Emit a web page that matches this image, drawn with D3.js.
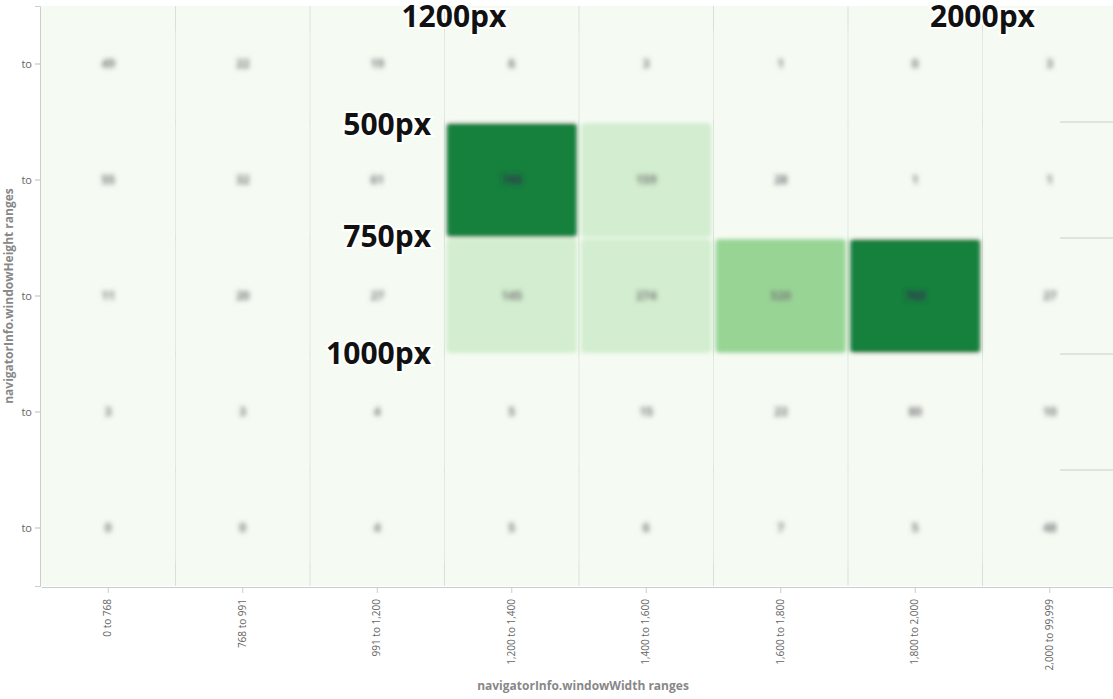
<!DOCTYPE html>
<html><head><meta charset="utf-8">
<script src="https://cdn.jsdelivr.net/npm/d3@7"></script>
<style>body{margin:0;background:#fff}svg{display:block}</style>
</head><body>
<div id="chart"></div>
<script>
var widthRanges = ["0 to 768", "768 to 991", "991 to 1,200", "1,200 to 1,400", "1,400 to 1,600", "1,600 to 1,800", "1,800 to 2,000", "2,000 to 99,999"];
var heightRanges = ["h0", "h1", "h2", "h3", "h4"]; // all labelled "to" in the picture
var heightLabels = ["to", "to", "to", "to", "to"];
var counts = [
  [49, 22, 19, 6, 3, 1, 0, 3],
  [55, 32, 61, 740, 159, 28, 1, 1],
  [11, 20, 27, 145, 274, 520, 760, 27],
  [3, 3, 4, 5, 15, 23, 80, 10],
  [0, 0, 4, 5, 6, 7, 5, 48]
];
// annotation positions in column / row units from the top-left of the grid
var notes = [
  {text: "1200px", x: 3.07, y: 0.18, anchor: "middle"},
  {text: "2000px", x: 7.0, y: 0.18, anchor: "middle"},
  {text: "500px", x: 2.9, y: 1.11, anchor: "end"},
  {text: "750px", x: 2.9, y: 2.08, anchor: "end"},
  {text: "1000px", x: 2.9, y: 3.09, anchor: "end"}
];

var width = 1113, height = 699;
var svg = d3.select("#chart").append("svg").attr("width", width).attr("height", height);

var x = d3.scaleBand().domain(widthRanges).range([41, 1117]);
var y = d3.scaleBand().domain(heightRanges).range([6, 586]);
var color = d3.scaleThreshold()
  .domain([100, 400, 650])
  .range(["#f5fbf3", "#d2edcf", "#98d595", "#16803c"]);

var defs = svg.append("defs");
defs.append("filter").attr("id", "blur").append("feGaussianBlur").attr("stdDeviation", 2.2);
defs.append("filter").attr("id", "blurTxt").append("feGaussianBlur").attr("stdDeviation", 2.4);
defs.append("clipPath").attr("id", "clip").append("rect")
  .attr("x", 0).attr("y", 0).attr("width", 1060).attr("height", 586);

// background and grid
svg.append("rect").attr("x", 41).attr("y", 6).attr("width", width - 41).attr("height", 580).attr("fill", "#f5fbf3");
svg.append("g").selectAll("line").data(widthRanges.slice(1))
  .enter().append("line")
  .attr("x1", d => x(d)).attr("x2", d => x(d)).attr("y1", 6).attr("y2", 586)
  .attr("stroke", "#ddd");
svg.append("g").selectAll("line").data(heightRanges.slice(1))
  .enter().append("line")
  .attr("x1", 1060).attr("x2", width).attr("y1", d => y(d)).attr("y2", d => y(d))
  .attr("stroke", "#ccc");

var cells = [];
counts.forEach(function(row, i) {
  row.forEach(function(v, j) { cells.push({r: heightRanges[i], c: widthRanges[j], v: v}); });
});

var g = svg.append("g").attr("clip-path", "url(#clip)");
g.append("g").attr("filter", "url(#blur)").selectAll("rect").data(cells)
  .enter().append("rect")
  .attr("x", d => x(d.c) + 2)
  .attr("y", function(d) { return d.r === "h0" ? y(d.r) + 24 : y(d.r) + 1; })
  .attr("width", x.bandwidth() - 4)
  .attr("height", function(d) {
    if (d.r === "h0") return y.bandwidth() - 25;
    if (d.r === "h4") return y.bandwidth() - 24;
    return y.bandwidth() - 2;
  })
  .attr("rx", 4)
  .attr("fill", d => color(d.v));
g.append("g").attr("filter", "url(#blurTxt)").selectAll("text").data(cells)
  .enter().append("text")
  .attr("x", d => x(d.c) + x.bandwidth() / 2)
  .attr("y", d => y(d.r) + y.bandwidth() / 2 + 4)
  .attr("text-anchor", "middle")
  .attr("font-family", "Open Sans, sans-serif").attr("font-size", 12).attr("font-weight", "bold")
  .attr("fill", d => d.v > 650 ? "#335" : "#777")
  .text(d => d.v);

// axes
var xAxis = svg.append("g").attr("transform", "translate(0,587)")
  .call(d3.axisBottom(x).tickSize(6).tickSizeOuter(0));
xAxis.select(".domain").attr("stroke", "#ccc");
xAxis.selectAll("line").attr("stroke", "#ccc");
xAxis.selectAll("text")
  .attr("transform", "rotate(-90)").attr("text-anchor", "end")
  .attr("x", -12).attr("y", 0).attr("dy", "0.32em")
  .attr("fill", "#666").attr("font-size", 10).attr("font-family", "Open Sans, sans-serif");

var yAxis = svg.append("g").attr("transform", "translate(40,0)")
  .call(d3.axisLeft(y).tickSize(5).tickFormat((d, i) => heightLabels[i]));
yAxis.select(".domain").attr("stroke", "#ccc");
yAxis.selectAll("line").attr("stroke", "#bbb");
yAxis.selectAll("text").attr("fill", "#666").attr("font-size", 11).attr("font-family", "Open Sans, sans-serif");

svg.append("text").attr("x", 583).attr("y", 690).attr("text-anchor", "middle")
  .attr("font-family", "Open Sans, sans-serif").attr("font-size", 12).attr("font-weight", "bold")
  .attr("fill", "#888").text("navigatorInfo.windowWidth ranges");
svg.append("text").attr("transform", "translate(13,296) rotate(-90)").attr("text-anchor", "middle")
  .attr("font-family", "Open Sans, sans-serif").attr("font-size", 12).attr("font-weight", "bold")
  .attr("fill", "#888").text("navigatorInfo.windowHeight ranges");

// annotations
svg.append("g").selectAll("text").data(notes)
  .enter().append("text")
  .attr("x", d => x(widthRanges[0]) + d.x * x.step())
  .attr("y", d => y(heightRanges[0]) + d.y * y.step())
  .attr("text-anchor", d => d.anchor)
  .attr("font-family", "Open Sans, sans-serif").attr("font-weight", "bold").attr("font-size", 30)
  .attr("fill", "#111").attr("stroke", "#fff").attr("stroke-width", 4).attr("paint-order", "stroke")
  .text(d => d.text);
</script>
</body></html>
